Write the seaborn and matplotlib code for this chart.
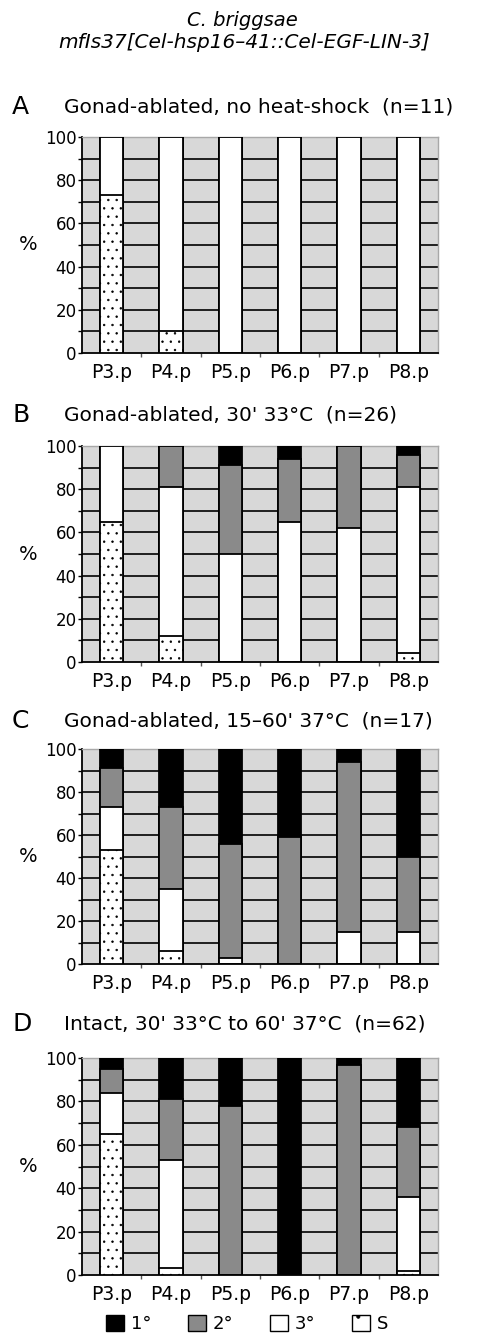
import numpy as np
import pandas as pd
import matplotlib
matplotlib.use("Agg")
import matplotlib.pyplot as plt
import seaborn as sns
from matplotlib.patches import Patch
from matplotlib.ticker import MultipleLocator, FixedLocator

# ---------------- data ----------------
cells = ["P3.p", "P4.p", "P5.p", "P6.p", "P7.p", "P8.p"]

A_S = [73, 10, 0, 0, 0, 0]
A_3 = [27, 90, 100, 100, 100, 100]
A_2 = [0, 0, 0, 0, 0, 0]
A_1 = [0, 0, 0, 0, 0, 0]

B_S = [65, 12, 0, 0, 0, 4]
B_3 = [35, 69, 50, 65, 62, 77]
B_2 = [0, 19, 41, 29, 38, 15]
B_1 = [0, 0, 9, 6, 0, 4]

C_S = [53, 6, 0, 0, 0, 0]
C_3 = [20, 29, 3, 0, 15, 15]
C_2 = [18, 38, 53, 59, 79, 35]
C_1 = [9, 27, 44, 41, 6, 50]

D_S = [65, 3, 0, 0, 0, 2]
D_3 = [19, 50, 0, 0, 0, 34]
D_2 = [11, 28, 78, 0, 97, 32]
D_1 = [5, 19, 22, 100, 3, 32]

panel_letters = ["A", "B", "C", "D"]
panel_titles = [
    "Gonad-ablated, no heat-shock  (n=11)",
    "Gonad-ablated, 30' 33\u00b0C  (n=26)",
    "Gonad-ablated, 15\u201360' 37\u00b0C  (n=17)",
    "Intact, 30' 33\u00b0C to 60' 37\u00b0C  (n=62)",
]
fates = ["1\u00b0", "2\u00b0", "3\u00b0", "S"]
y_ticks = [0, 20, 40, 60, 80, 100]

panels = [(A_S, A_3, A_2, A_1), (B_S, B_3, B_2, B_1),
          (C_S, C_3, C_2, C_1), (D_S, D_3, D_2, D_1)]

# ---------------- style ----------------
sns.set_theme(style="white")
plt.rcParams["font.family"] = ["DejaVu Sans"]
plt.rcParams["hatch.linewidth"] = 0.5
plt.rcParams["text.color"] = "black"
plt.rcParams["axes.labelcolor"] = "black"
plt.rcParams["xtick.color"] = "black"
plt.rcParams["ytick.color"] = "black"

BG = "#d8d8d8"
COL = {"1": "#000000", "2": "#8a8a8a", "3": "#ffffff", "S": "#ffffff"}

W, H = 494, 1336
fig = plt.figure(figsize=(W / 100, H / 100), dpi=100)

# axes pixel boxes (top, bottom)
boxes = [(137, 353), (446, 662), (749, 964), (1058, 1275)]
left_px, right_px = 82, 438
letter_y = [107, 415, 721, 1024]

for i, ((s, t3, t2, t1), (top, bot)) in enumerate(zip(panels, boxes)):
    ax = fig.add_axes([left_px / W, 1 - bot / H, (right_px - left_px) / W, (bot - top) / H])
    ax.set_facecolor(BG)
    s = np.array(s, float); t3 = np.array(t3, float)
    t2 = np.array(t2, float); t1 = np.array(t1, float)
    layers = [
        ("1", s + t3 + t2 + t1, None),
        ("2", s + t3 + t2, None),
        ("3", s + t3, None),
        ("S", s, ".."),
    ]
    for key, vals, hatch in layers:
        df = pd.DataFrame({"cell": cells, "v": vals})
        n_before = len(ax.patches)
        sns.barplot(data=df, x="cell", y="v", ax=ax, color=COL[key],
                    saturation=1, width=0.39, edgecolor="black",
                    linewidth=1.3, zorder=3)
        for p in ax.patches[n_before:]:
            p.set_facecolor(COL[key])
            if hatch:
                p.set_hatch(hatch)
    ax.set_xlim(-0.5, 5.5)
    ax.set_ylim(0, 100)
    ax.set_xlabel("")
    ax.set_ylabel("%", rotation=0, fontsize=14, labelpad=12, va="center")
    ax.set_yticks(y_ticks)
    ax.yaxis.set_minor_locator(MultipleLocator(10))
    ax.xaxis.set_minor_locator(FixedLocator([0.5, 1.5, 2.5, 3.5, 4.5]))
    for y in range(10, 100, 10):
        ax.axhline(y, color="black", lw=1.2, zorder=1)
    ax.tick_params(axis="y", which="both", left=True, length=3, width=1,
                   labelsize=12, pad=1, color="black")
    ax.tick_params(axis="x", which="major", bottom=False, labelsize=13.5, pad=1)
    ax.tick_params(axis="x", which="minor", bottom=True, length=3, width=1, color="#555555")
    for sp in ["left", "bottom"]:
        ax.spines[sp].set_color("black")
        ax.spines[sp].set_linewidth(1.3)
    for sp in ["top", "right"]:
        ax.spines[sp].set_color("#a8a8a8")
        ax.spines[sp].set_linewidth(1.0)
    fig.text(12 / W, 1 - letter_y[i] / H, panel_letters[i], fontsize=18,
             ha="left", va="center")
    fig.text(64 / W, 1 - letter_y[i] / H, panel_titles[i], fontsize=14.5,
             ha="left", va="center")

fig.text(0.49, 1 - 21 / H, "C. briggsae", style="italic", fontsize=14,
         ha="center", va="center")
fig.text(0.495, 1 - 43 / H, "mfIs37[Cel-hsp16\u201341::Cel-EGF-LIN-3]",
         style="italic", fontsize=14.5, ha="center", va="center")

handles = [
    Patch(facecolor=COL["1"], edgecolor="black", label=fates[0]),
    Patch(facecolor=COL["2"], edgecolor="black", label=fates[1]),
    Patch(facecolor=COL["3"], edgecolor="black", label=fates[2]),
    Patch(facecolor=COL["S"], edgecolor="black", hatch=".", label=fates[3]),
]
fig.legend(handles=handles, loc="center", bbox_to_anchor=(0.5, 1 - 1324 / H),
           ncol=4, frameon=False, fontsize=13, handlelength=1.0,
           handleheight=1.0, handletextpad=0.4, columnspacing=2.0)

fig.savefig("out.png", dpi=100)
